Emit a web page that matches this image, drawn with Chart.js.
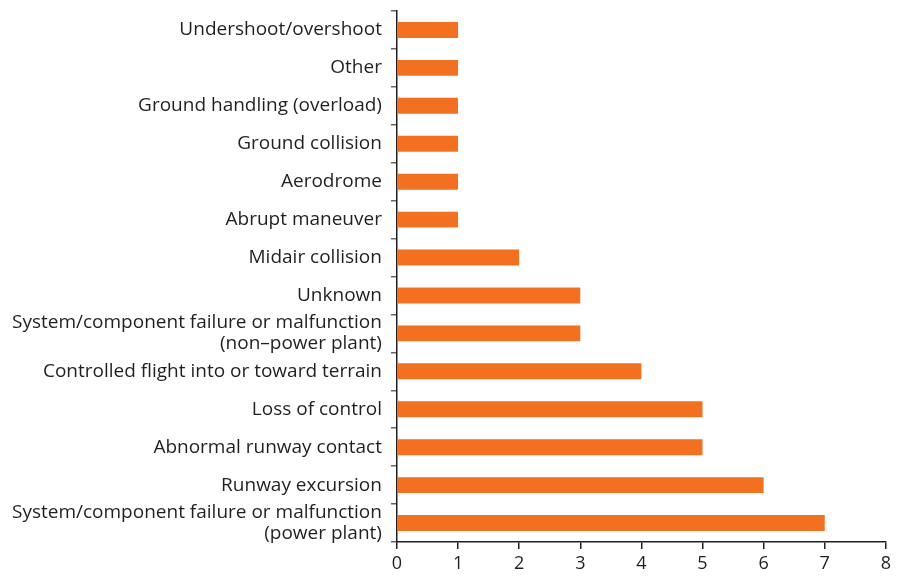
<!DOCTYPE html>
<html>
<head>
<meta charset="utf-8">
<script src="https://cdn.jsdelivr.net/npm/chart.js@4"></script>
<style>
  html, body { margin: 0; padding: 0; background: #fff; }
  #wrap { width: 897px; height: 579px; }
</style>
</head>
<body>
<div id="wrap"><canvas id="g_causes" width="897" height="579"></canvas></div>
<script>
const categories = [
    "Undershoot/overshoot",
    "Other",
    "Ground handling (overload)",
    "Ground collision",
    "Aerodrome",
    "Abrupt maneuver",
    "Midair collision",
    "Unknown",
    ["System/component failure or malfunction", "(non\u2013power plant)"],
    "Controlled flight into or toward terrain",
    "Loss of control",
    "Abnormal runway contact",
    "Runway excursion",
    ["System/component failure or malfunction", "(power plant)"]
]
const counts = [1, 1, 1, 1, 1, 1, 2, 3, 3, 4, 5, 5, 6, 7]
const x_ticks = [0, 1, 2, 3, 4, 5, 6, 7, 8]

const ink = "#231F20"
const orange = "#F37021"

new Chart(document.getElementById("g_causes"), {
    type: "bar",
    data: {
        labels: categories,
        datasets: [
            {
                label: "Accidents",
                data: counts,
                backgroundColor: orange,
                borderWidth: 0,
                categoryPercentage: 1,
                barPercentage: 0.42
            }
        ]
    },
    options: {
        indexAxis: "y",
        responsive: false,
        animation: false,
        layout: {
            padding: { top: 11, right: 6, bottom: 0, left: 3 }
        },
        plugins: {
            legend: { display: false },
            tooltip: { enabled: false }
        },
        scales: {
            x: {
                min: x_ticks[0],
                max: x_ticks[x_ticks.length - 1],
                afterBuildTicks: (axis) => {
                    axis.ticks = x_ticks.map(v => ({ value: v }))
                },
                border: { color: ink, width: 1.5 },
                grid: {
                    drawOnChartArea: false,
                    color: ink,
                    lineWidth: 1.5,
                    tickLength: 7
                },
                ticks: {
                    color: ink,
                    padding: 6,
                    font: { family: "Open Sans", size: 18, lineHeight: 1 }
                }
            },
            y: {
                // keep the first/last label from pushing the plot area in
                afterFit: (axis) => {
                    axis.paddingTop = 0
                    axis.paddingBottom = 0
                },
                border: { color: ink, width: 1.5 },
                grid: {
                    offset: true,
                    drawOnChartArea: false,
                    color: "#666",
                    lineWidth: 1.5,
                    tickLength: 6
                },
                ticks: {
                    color: ink,
                    padding: 9,
                    autoSkip: false,
                    font: { family: "Open Sans", size: 19, lineHeight: 1.12 }
                }
            }
        }
    }
})
</script>
</body>
</html>
